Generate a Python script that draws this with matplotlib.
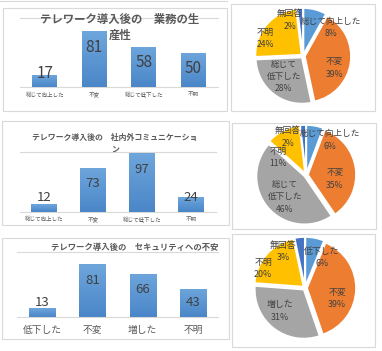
import matplotlib
matplotlib.use("Agg")
import matplotlib.pyplot as plt
import numpy as np
from matplotlib.patches import Rectangle
from matplotlib.lines import Line2D
from matplotlib.colors import LinearSegmentedColormap

plt.rcParams['font.family'] = ['Noto Sans CJK JP', 'DejaVu Sans']

W, H, DPI = 382, 351, 100

# --- データ ---
prod_title = 'テレワーク導入後の　業務の生\n産性'
prod_cats = ['総じて向上した', '不変', '総じて低下した', '不明']
prod_vals = [17, 81, 58, 50]
prod_pie_labels = ['総じて向上した', '不変', '総じて\n低下した', '不明', '無回答']

comm_title = 'テレワーク導入後の　社内外コミュニケーショ\nン'
comm_cats = ['総じて向上した', '不変', '総じて低下した', '不明']
comm_vals = [12, 73, 97, 24]
comm_pie_labels = ['総じて向上した', '不変', '総じて\n低下した', '不明', '無回答']

sec_title = 'テレワーク導入後の　セキュリティへの不安'
sec_cats = ['低下した', '不変', '増した', '不明']
sec_vals = [13, 81, 66, 43]
sec_pie_labels = ['低下した', '不変', '増した', '不明', '無回答']

no_answer = [4, 4, 7]  # 無回答の件数（円グラフのみ）

pie_colors = ['#5B9BD5', '#ED7D31', '#A5A5A5', '#FFC000', '#4472C4']
bar_cmap = LinearSegmentedColormap.from_list('bar', ['#6EA6DC', '#4A86C8'])

fig = plt.figure(figsize=(W / DPI, H / DPI), dpi=DPI)
fig.patch.set_facecolor('white')


def px_box(x0, y0, x1, y1):
    return [x0 / W, 1 - y1 / H, (x1 - x0) / W, (y1 - y0) / H]


def frame(x0, y0, x1, y1):
    fig.add_artist(Rectangle((x0 / W, 1 - y1 / H), (x1 - x0) / W, (y1 - y0) / H,
                             transform=fig.transFigure, fill=False,
                             ec='#D9D9D9', lw=0.8))


def bar_panel(box, cats, vals, width, num_size, cat_size, cat_pad):
    ax = fig.add_axes(px_box(*box))
    x = np.arange(len(vals))
    bars = ax.bar(x, vals, width=width, color='none', zorder=2)
    grad = np.linspace(0, 1, 256).reshape(-1, 1)
    for b in bars:
        im = ax.imshow(grad, extent=[b.get_x(), b.get_x() + b.get_width(), 0, b.get_height()],
                       aspect='auto', cmap=bar_cmap, zorder=2)
        im.set_clip_path(b)
    ax.set_xlim(-0.5, len(vals) - 0.5)
    ax.set_ylim(0, 100)
    ax.axhline(100, color='#D9D9D9', lw=0.8, clip_on=False, zorder=1)
    ax.axhline(0, color='#D9D9D9', lw=0.8, clip_on=False, zorder=1)
    for s in ax.spines.values():
        s.set_visible(False)
    ax.set_yticks([])
    ax.set_xticks(x, cats, fontsize=cat_size, color='#595959')
    ax.tick_params(axis='x', length=0, pad=cat_pad)
    ax.patch.set_alpha(0)
    scale = (box[3] - box[1]) / 100.0  # px per unit
    for i, v in enumerate(vals):
        y = max(v - 16 / scale, 14 / scale)
        ax.text(i, y, str(v), ha='center', va='center', fontsize=num_size,
                color='#404040', zorder=3)
    return ax


def pie_panel(cx, cy, r, vals, labels, positions, fs):
    ax = fig.add_axes(px_box(cx - r, cy - r, cx + r, cy + r))
    ax.pie(vals, colors=pie_colors, startangle=90, counterclock=False, radius=0.96,
           explode=[0.04] * len(vals),
           wedgeprops=dict(edgecolor='white', linewidth=1.2))
    ax.set_xlim(-1, 1)
    ax.set_ylim(-1, 1)
    ax.set_aspect('equal')
    ax.axis('off')
    total = sum(vals)
    for v, lab, (px, py) in zip(vals, labels, positions):
        ax.text(px, py, f'{lab}\n{round(v / total * 100)}%', ha='center', va='center',
                fontsize=fs, color='#404040', linespacing=1.45)


# 枠線
fig.add_artist(Line2D([0, 227 / W], [1 - 1 / H, 1 - 1 / H], transform=fig.transFigure,
                      color='#D9D9D9', lw=0.8))
frame(3, 8, 227, 111)
frame(2, 121, 229, 225)
frame(2, 238, 229, 339)
frame(231, 4, 375, 111)
frame(232, 123, 376, 229)
frame(232, 234, 375, 347)

# 棒グラフ
bar_panel((20, 18, 218, 87), prod_cats, prod_vals, 0.5, 11, 4, 3.5)
fig.text(120 / W, 1 - 27 / H, prod_title, ha='center', va='center', fontsize=8.2,
         fontweight='bold', color='#595959', linespacing=1.3)

bar_panel((19.5, 151.5, 215.5, 211.7), comm_cats, comm_vals, 0.53, 9.5, 4, 3.5)
fig.text(115 / W, 1 - 143.5 / H, comm_title, ha='center', va='center', fontsize=5.7,
         fontweight='bold', color='#595959', linespacing=1.4)

bar_panel((17, 251.6, 218, 317), sec_cats, sec_vals, 0.52, 9.5, 7, 6)
fig.text(135 / W, 1 - 247 / H, sec_title, ha='center', va='center', fontsize=6,
         fontweight='bold', color='#595959')

# 円グラフ
pie_panel(303, 56, 48, prod_vals + [no_answer[0]], prod_pie_labels,
          [(0.58, 0.60), (0.65, -0.25), (-0.40, -0.42), (-0.79, 0.375), (-0.27, 0.75)], 6.2)
pie_panel(306, 175, 50, comm_vals + [no_answer[1]], comm_pie_labels,
          [(0.48, 0.70), (0.58, -0.08), (-0.42, -0.44), (-0.56, 0.36), (-0.36, 0.76)], 6.2)
pie_panel(305, 288, 51, sec_vals + [no_answer[2]], sec_pie_labels,
          [(0.33, 0.59), (0.63, -0.20), (-0.49, -0.45), (-0.82, 0.39), (-0.43, 0.71)], 6.4)

fig.savefig('out.png', dpi=DPI)
